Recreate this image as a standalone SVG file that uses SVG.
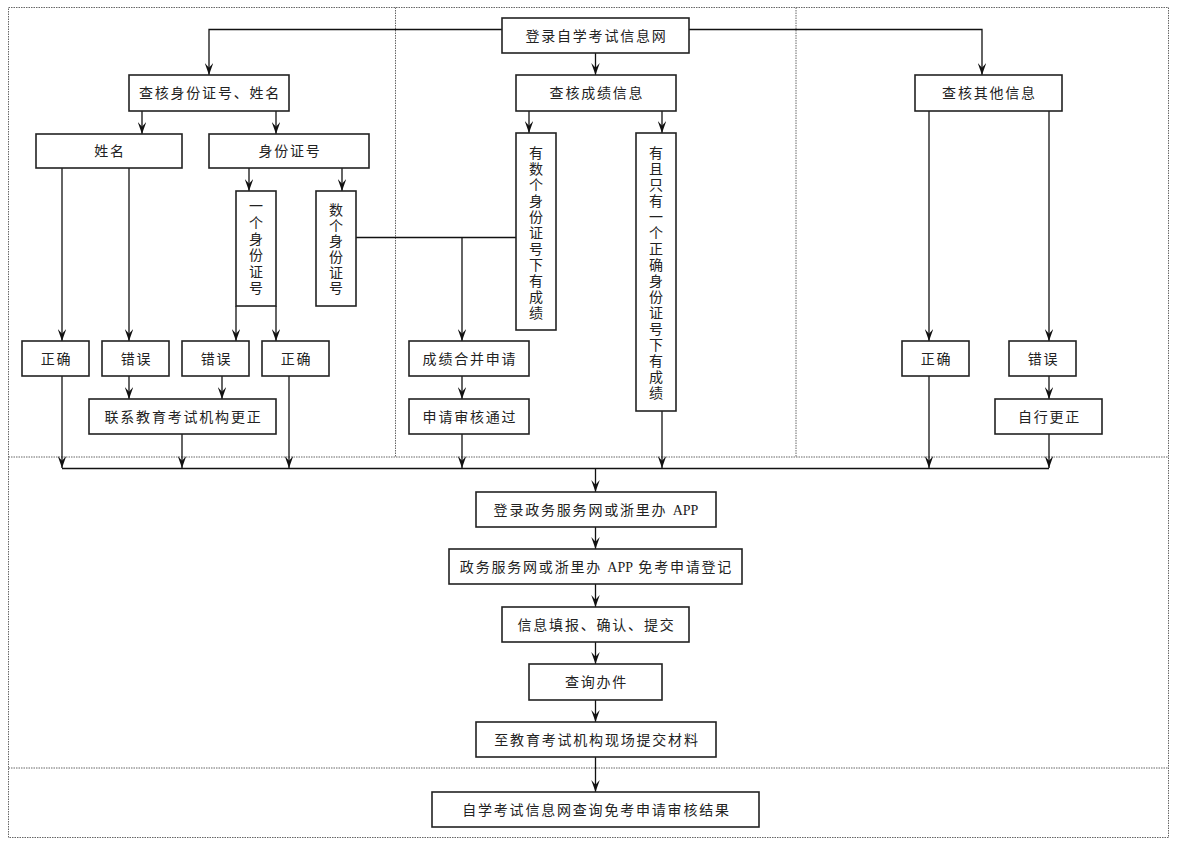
<svg xmlns="http://www.w3.org/2000/svg" width="1179" height="844" viewBox="0 0 1179 844">
<style>
.bx{fill:#fff;stroke:#222;stroke-width:1.6}
.t{font-family:"Liberation Serif","Noto Sans CJK SC",serif;font-size:14px;fill:#222;text-anchor:middle;letter-spacing:1.8px}
.v{font-family:"Liberation Serif","Noto Sans CJK SC",serif;font-size:14px;fill:#222;text-anchor:middle}
.a{letter-spacing:0}
.c{fill:none;stroke:#111;stroke-width:1.3}
.d{fill:none;stroke:#666;stroke-width:1;stroke-dasharray:1.5 1}
</style>
<defs>
<marker id="ah" viewBox="0 0 10 10" refX="10" refY="5" markerWidth="12" markerHeight="8.5" orient="auto" markerUnits="userSpaceOnUse" preserveAspectRatio="none">
<path d="M0,0 L10,5 L0,10 L4,5 z" fill="#111"/>
</marker>
</defs>
<rect width="1179" height="844" fill="#fff"/>
<g id="frame">
<rect class="d" x="8.5" y="7.5" width="1160" height="830"/>
<line class="d" x1="8.5" y1="457" x2="1168.5" y2="457"/>
<line class="d" x1="8.5" y1="768" x2="1168.5" y2="768"/>
<line class="d" x1="395.5" y1="7.5" x2="395.5" y2="457"/>
<line class="d" x1="796" y1="7.5" x2="796" y2="457"/>
</g>
<g id="connectors">
<path class="c" d="M502,29.5 H209 V75" marker-end="url(#ah)"/>
<path class="c" d="M689,29.5 H982 V75" marker-end="url(#ah)"/>
<path class="c" d="M595.5,53 V75" marker-end="url(#ah)"/>
<path class="c" d="M142,111 V134" marker-end="url(#ah)"/>
<path class="c" d="M276,111 V134" marker-end="url(#ah)"/>
<path class="c" d="M62,168 V341" marker-end="url(#ah)"/>
<path class="c" d="M129,168 V341" marker-end="url(#ah)"/>
<path class="c" d="M249,168 V191" marker-end="url(#ah)"/>
<path class="c" d="M342,168 V191" marker-end="url(#ah)"/>
<path class="c" d="M236,306 V341" marker-end="url(#ah)"/>
<path class="c" d="M276,306 V341" marker-end="url(#ah)"/>
<path class="c" d="M129,376 V399" marker-end="url(#ah)"/>
<path class="c" d="M222,376 V399" marker-end="url(#ah)"/>
<path class="c" d="M62,376 V468" marker-end="url(#ah)"/>
<path class="c" d="M182,434 V468" marker-end="url(#ah)"/>
<path class="c" d="M289,376 V468" marker-end="url(#ah)"/>
<path class="c" d="M356,237.5 H516"/>
<path class="c" d="M462,237.5 V341" marker-end="url(#ah)"/>
<path class="c" d="M462,376 V399" marker-end="url(#ah)"/>
<path class="c" d="M462,434 V468" marker-end="url(#ah)"/>
<path class="c" d="M529,111 V133" marker-end="url(#ah)"/>
<path class="c" d="M662,111 V133" marker-end="url(#ah)"/>
<path class="c" d="M662,411 V468" marker-end="url(#ah)"/>
<path class="c" d="M929,111 V341" marker-end="url(#ah)"/>
<path class="c" d="M1049,111 V341" marker-end="url(#ah)"/>
<path class="c" d="M1049,376 V399" marker-end="url(#ah)"/>
<path class="c" d="M929,376 V468" marker-end="url(#ah)"/>
<path class="c" d="M1049,434 V468" marker-end="url(#ah)"/>
<path class="c" d="M62,468.5 H1049"/>
<path class="c" d="M595.5,468 V492" marker-end="url(#ah)"/>
<path class="c" d="M595.5,527 V549" marker-end="url(#ah)"/>
<path class="c" d="M595.5,584 V607" marker-end="url(#ah)"/>
<path class="c" d="M595.5,642 V664" marker-end="url(#ah)"/>
<path class="c" d="M595.5,700 V722" marker-end="url(#ah)"/>
<path class="c" d="M595.5,757 V792" marker-end="url(#ah)"/>
</g>
<g id="n-login"><rect class="bx" x="502" y="18" width="187" height="35"/><text class="t" x="596.5" y="40.5">登录自学考试信息网</text></g>
<g id="n-idname"><rect class="bx" x="129" y="75" width="160" height="36"/><text class="t" x="210" y="98">查核身份证号、姓名</text></g>
<g id="n-score"><rect class="bx" x="516" y="75" width="160" height="36"/><text class="t" x="597" y="98">查核成绩信息</text></g>
<g id="n-other"><rect class="bx" x="915" y="75" width="147" height="36"/><text class="t" x="989.5" y="98">查核其他信息</text></g>
<g id="n-name"><rect class="bx" x="36" y="134" width="146" height="34"/><text class="t" x="110" y="156">姓名</text></g>
<g id="n-id"><rect class="bx" x="209" y="134" width="160" height="34"/><text class="t" x="290" y="156">身份证号</text></g>
<g id="n-oneid"><rect class="bx" x="236" y="191" width="40" height="115"/>
<text class="v"><tspan x="256" y="211">一</tspan><tspan x="256" y="228">个</tspan><tspan x="256" y="244">身</tspan><tspan x="256" y="260">份</tspan><tspan x="256" y="277">证</tspan><tspan x="256" y="293">号</tspan></text></g>
<g id="n-multid"><rect class="bx" x="316" y="191" width="40" height="115"/>
<text class="v"><tspan x="336" y="215">数</tspan><tspan x="336" y="231">个</tspan><tspan x="336" y="246">身</tspan><tspan x="336" y="262">份</tspan><tspan x="336" y="278">证</tspan><tspan x="336" y="293">号</tspan></text></g>
<g id="n-multscore"><rect class="bx" x="516" y="133" width="40" height="197"/>
<text class="v"><tspan x="536" y="158">有</tspan><tspan x="536" y="174">数</tspan><tspan x="536" y="190">个</tspan><tspan x="536" y="206">身</tspan><tspan x="536" y="222">份</tspan><tspan x="536" y="238">证</tspan><tspan x="536" y="254">号</tspan><tspan x="536" y="270">下</tspan><tspan x="536" y="286">有</tspan><tspan x="536" y="302">成</tspan><tspan x="536" y="318">绩</tspan></text></g>
<g id="n-onescore"><rect class="bx" x="636" y="133" width="40" height="278"/>
<text class="v"><tspan x="656" y="158">有</tspan><tspan x="656" y="174">且</tspan><tspan x="656" y="190">只</tspan><tspan x="656" y="206">有</tspan><tspan x="656" y="222">一</tspan><tspan x="656" y="238">个</tspan><tspan x="656" y="254">正</tspan><tspan x="656" y="270">确</tspan><tspan x="656" y="286">身</tspan><tspan x="656" y="302">份</tspan><tspan x="656" y="318">证</tspan><tspan x="656" y="334">号</tspan><tspan x="656" y="350">下</tspan><tspan x="656" y="366">有</tspan><tspan x="656" y="382">成</tspan><tspan x="656" y="398">绩</tspan></text></g>
<g id="n-ok1"><rect class="bx" x="22" y="341" width="67" height="35"/><text class="t" x="56.5" y="363.5">正确</text></g>
<g id="n-err1"><rect class="bx" x="102" y="341" width="67" height="35"/><text class="t" x="136.5" y="363.5">错误</text></g>
<g id="n-err2"><rect class="bx" x="182" y="341" width="67" height="35"/><text class="t" x="216.5" y="363.5">错误</text></g>
<g id="n-ok2"><rect class="bx" x="262" y="341" width="67" height="35"/><text class="t" x="296.5" y="363.5">正确</text></g>
<g id="n-contact"><rect class="bx" x="89" y="399" width="187" height="35"/><text class="t" x="183.5" y="421.5">联系教育考试机构更正</text></g>
<g id="n-merge"><rect class="bx" x="409" y="341" width="120" height="35"/><text class="t" x="470" y="363.5">成绩合并申请</text></g>
<g id="n-pass"><rect class="bx" x="409" y="399" width="120" height="35"/><text class="t" x="470" y="421.5">申请审核通过</text></g>
<g id="n-ok3"><rect class="bx" x="902" y="341" width="67" height="35"/><text class="t" x="936.5" y="363.5">正确</text></g>
<g id="n-err3"><rect class="bx" x="1009" y="341" width="67" height="35"/><text class="t" x="1043.5" y="363.5">错误</text></g>
<g id="n-self"><rect class="bx" x="995" y="399" width="107" height="35"/><text class="t" x="1049.5" y="421.5">自行更正</text></g>
<g id="n-gov"><rect class="bx" x="476" y="492" width="240" height="35"/><text class="t" x="596" y="514.5">登录政务服务网或浙里办 <tspan class="a">APP</tspan></text></g>
<g id="n-apply"><rect class="bx" x="449" y="549" width="293" height="35"/><text class="t" x="596.5" y="571.5">政务服务网或浙里办 <tspan class="a">APP</tspan> 免考申请登记</text></g>
<g id="n-fill"><rect class="bx" x="502" y="607" width="187" height="35"/><text class="t" x="596.5" y="629.5">信息填报、确认、提交</text></g>
<g id="n-query"><rect class="bx" x="529" y="664" width="133" height="36"/><text class="t" x="596.5" y="687">查询办件</text></g>
<g id="n-submit"><rect class="bx" x="476" y="722" width="240" height="35"/><text class="t" x="597" y="744.5">至教育考试机构现场提交材料</text></g>
<g id="n-result"><rect class="bx" x="432" y="792" width="327" height="35"/><text class="t" x="596.5" y="814.5">自学考试信息网查询免考申请审核结果</text></g>
</svg>
